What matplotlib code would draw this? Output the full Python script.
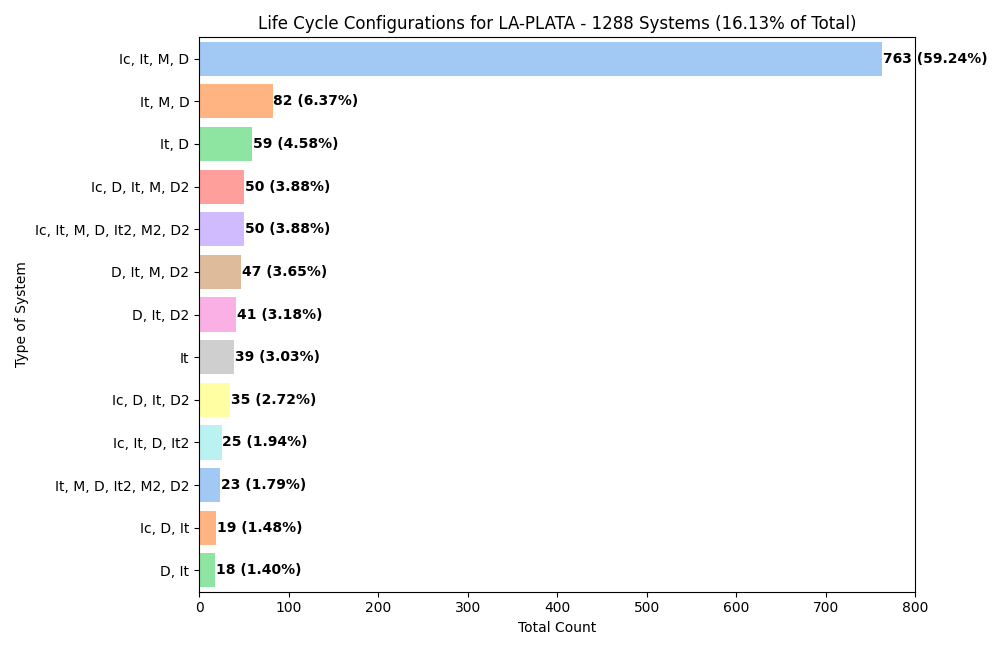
import matplotlib
matplotlib.use("Agg")
import matplotlib.pyplot as plt
import seaborn as sns

configs = ["Ic, It, M, D", "It, M, D", "It, D", "Ic, D, It, M, D2",
           "Ic, It, M, D, It2, M2, D2", "D, It, M, D2", "D, It, D2", "It",
           "Ic, D, It, D2", "Ic, It, D, It2", "It, M, D, It2, M2, D2",
           "Ic, D, It", "D, It"]
counts = [763, 82, 59, 50, 50, 47, 41, 39, 35, 25, 23, 19, 18]
total = 1288

palette = sns.color_palette("pastel", 10)
colors = [palette[i % 10] for i in range(len(counts))]

fig, ax = plt.subplots(figsize=(10, 6.5), dpi=100)
ypos = range(len(configs))
ax.barh(ypos, counts, color=colors, height=0.8)
ax.set_yticks(list(ypos))
ax.set_yticklabels(configs)
ax.set_ylim(len(configs) - 0.5, -0.5)
ax.set_xlim(0, 800)

for i, c in enumerate(counts):
    ax.text(c + 1, i, f"{c} ({c / total * 100:.2f}%)", va="center", ha="left",
            fontweight="bold", fontsize=10)

ax.set_title("Life Cycle Configurations for LA-PLATA - 1288 Systems (16.13% of Total)",
             fontsize=12)
ax.set_xlabel("Total Count")
ax.set_ylabel("Type of System")
fig.tight_layout()
fig.savefig("out.png")
